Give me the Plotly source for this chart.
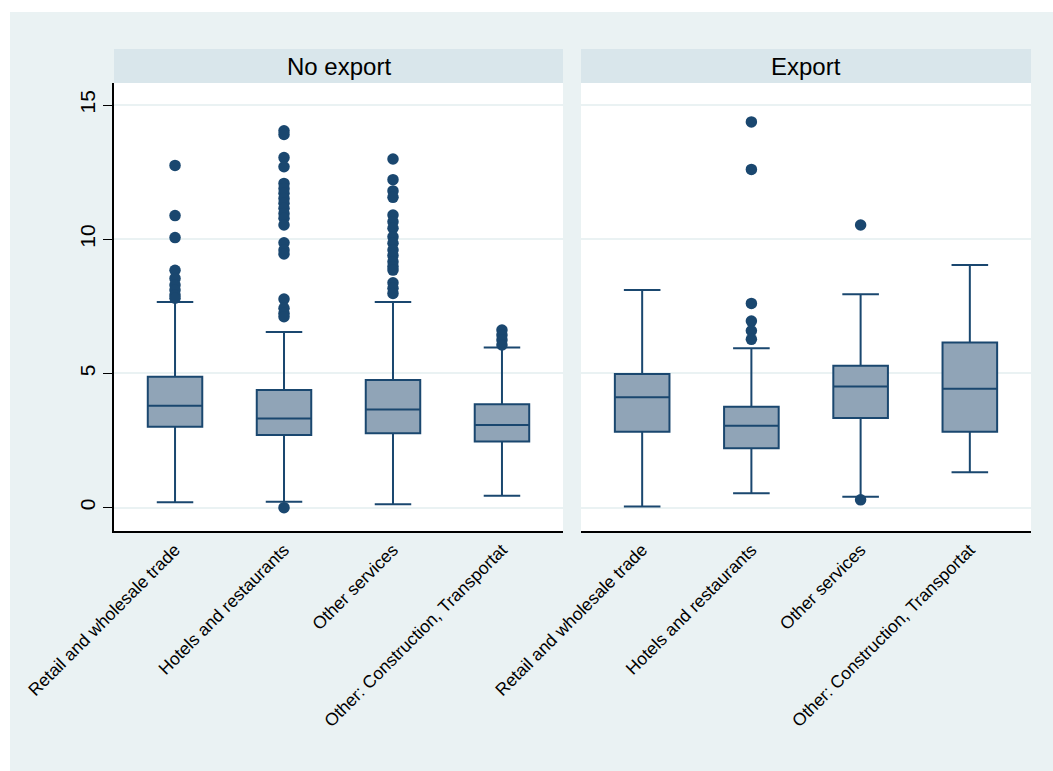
import plotly.graph_objects as go

# ---------------- data ----------------
categories = ["Retail and wholesale trade", "Hotels and restaurants",
              "Other services", "Other: Construction, Transportat"]
panels = ["No export", "Export"]

# No export
ne_q1 = [3.01, 2.71, 2.77, 2.46]
ne_med = [3.80, 3.32, 3.66, 3.08]
ne_q3 = [4.88, 4.38, 4.76, 3.85]
ne_low = [0.20, 0.22, 0.13, 0.44]
ne_up = [7.66, 6.54, 7.66, 5.97]
ne_out_retail = [12.75, 10.88, 10.06, 8.84, 8.54, 8.29, 8.11, 7.92, 7.80]
ne_out_hotels = [14.04, 13.90, 13.04, 12.70, 12.08, 11.89, 11.71, 11.52, 11.34,
                 11.15, 10.96, 10.78, 10.53, 9.87, 9.60, 9.45, 7.77, 7.43, 7.24,
                 7.11, 0.0]
ne_out_other = [12.99, 12.22, 11.80, 11.56, 10.90, 10.65, 10.41, 10.09, 9.85,
                9.60, 9.39, 9.16, 8.98, 8.85, 8.38, 8.17, 7.98]
ne_out_constr = [6.62, 6.43, 6.25, 6.06]

# Export
ex_q1 = [2.83, 2.21, 3.34, 2.83]
ex_med = [4.11, 3.05, 4.51, 4.43]
ex_q3 = [4.98, 3.76, 5.29, 6.15]
ex_low = [0.04, 0.54, 0.41, 1.32]
ex_up = [8.11, 5.94, 7.95, 9.04]
ex_out_retail = []
ex_out_hotels = [14.37, 12.60, 7.61, 6.95, 6.59, 6.27]
ex_out_other = [10.53, 0.29]
ex_out_constr = []

y_ticks = [0, 5, 10, 15]

# ---------------- style ----------------
NAVY = "#1A476F"
FILL = "#90A4B7"
BG = "#EAF2F3"
STRIP = "#D9E6EB"
FONT = "Liberation Sans, Arial, sans-serif"

W, H = 1053, 771
fig = go.Figure()

panel_data = [
    ("x", "y", ne_q1, ne_med, ne_q3, ne_low, ne_up,
     [ne_out_retail, ne_out_hotels, ne_out_other, ne_out_constr]),
    ("x2", "y2", ex_q1, ex_med, ex_q3, ex_low, ex_up,
     [ex_out_retail, ex_out_hotels, ex_out_other, ex_out_constr]),
]

for xa, ya, q1, med, q3, low, up, outs in panel_data:
    fig.add_trace(go.Box(
        x=categories, q1=q1, median=med, q3=q3,
        lowerfence=low, upperfence=up,
        xaxis=xa, yaxis=ya,
        fillcolor=FILL, line=dict(color=NAVY, width=2),
        width=0.5, whiskerwidth=0.67, boxpoints=False,
        showlegend=False, hoverinfo="skip",
    ))
    ox, oy = [], []
    for cat, vals in zip(categories, outs):
        ox += [cat] * len(vals)
        oy += vals
    fig.add_trace(go.Scatter(
        x=ox, y=oy, mode="markers", xaxis=xa, yaxis=ya,
        marker=dict(color=NAVY, size=11.5, line=dict(width=0)),
        showlegend=False, hoverinfo="skip",
    ))

x1_dom = [114 / W, 563 / W]
x2_dom = [581 / W, 1031 / W]
y_dom = [(H - 531) / H, (H - 83) / H]
yrange = [-0.87, 15.82]
xrange = [-0.56, 3.56]

xaxis_common = dict(
    type="category", categoryorder="array", categoryarray=categories,
    range=xrange, showgrid=False, zeroline=False, automargin=False,
    showline=True, linecolor="black", linewidth=1.5,
    ticks="", tickangle=-45,
    tickfont=dict(family=FONT, size=17.5, color="black"),
)
fig.update_layout(
    width=W, height=H,
    margin=dict(l=0, r=0, t=0, b=0, autoexpand=False),
    paper_bgcolor=BG, plot_bgcolor="white",
    font=dict(family=FONT, color="black"),
    xaxis=dict(domain=x1_dom, anchor="y", **xaxis_common),
    xaxis2=dict(domain=x2_dom, anchor="y2", **xaxis_common),
    yaxis=dict(domain=y_dom, anchor="x", range=yrange, automargin=False,
               tickvals=y_ticks, ticktext=[str(v) for v in y_ticks],
               tickangle=-90, ticks="outside", ticklen=9, tickwidth=1.2,
               tickcolor="black",
               tickfont=dict(family=FONT, size=21, color="black"),
               showline=True, linecolor="black", linewidth=1.5,
               showgrid=True, gridcolor=BG, gridwidth=2, zeroline=False),
    yaxis2=dict(domain=y_dom, anchor="x2", range=yrange, automargin=False,
                tickvals=y_ticks, showticklabels=False, ticks="",
                showline=False, showgrid=True, gridcolor=BG, gridwidth=2,
                zeroline=False),
)

shapes = [
    # white margins at top and left of the image
    dict(type="rect", xref="paper", yref="paper", x0=0, x1=1, y0=(H - 12) / H, y1=1,
         fillcolor="white", line=dict(width=0), layer="below"),
    dict(type="rect", xref="paper", yref="paper", x0=0, x1=10 / W, y0=0, y1=1,
         fillcolor="white", line=dict(width=0), layer="below"),
]
for dom, title in zip([x1_dom, x2_dom], panels):
    shapes.append(dict(type="rect", xref="paper", yref="paper",
                       x0=dom[0], x1=dom[1], y0=(H - 83) / H, y1=(H - 49) / H,
                       fillcolor=STRIP, line=dict(width=0), layer="below"))
    fig.add_annotation(x=(dom[0] + dom[1]) / 2, y=(H - 66) / H,
                       xref="paper", yref="paper", text=title, showarrow=False,
                       font=dict(family=FONT, size=24, color="black"),
                       xanchor="center", yanchor="middle")
fig.update_layout(shapes=shapes)

fig.write_html("out.html",
               config={"displayModeBar": False},
               post_script="document.body.style.margin='0';"
                           "document.body.style.overflow='hidden';")
